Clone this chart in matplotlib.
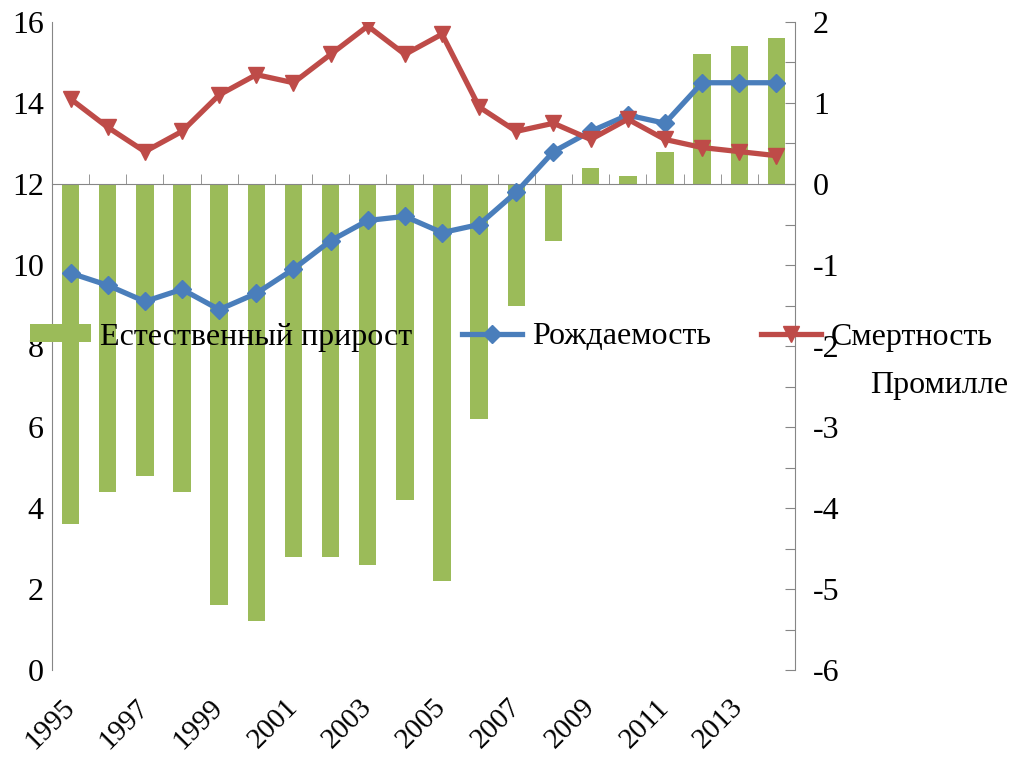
import numpy as np
import matplotlib
matplotlib.use("Agg")
import matplotlib.pyplot as plt

plt.rcParams['font.family'] = ['Liberation Serif', 'DejaVu Serif']

years = list(range(1995, 2015))
natural_increase = [-4.2, -3.8, -3.6, -3.8, -5.2, -5.4, -4.6, -4.6, -4.7, -3.9,
                    -4.9, -2.9, -1.5, -0.7, 0.2, 0.1, 0.4, 1.6, 1.7, 1.8]
birth_rate = [9.8, 9.5, 9.1, 9.4, 8.9, 9.3, 9.9, 10.6, 11.1, 11.2,
              10.8, 11.0, 11.8, 12.8, 13.3, 13.7, 13.5, 14.5, 14.5, 14.5]
death_rate = [14.1, 13.4, 12.8, 13.3, 14.2, 14.7, 14.5, 15.2, 15.9, 15.2,
              15.7, 13.9, 13.3, 13.5, 13.1, 13.6, 13.1, 12.9, 12.8, 12.7]
year_labels = [str(y) for y in years[::2]]

green = '#9BBB59'
blue = '#4A7EBB'
red = '#BE4B48'
gray = '#868686'
fs = 23

fig = plt.figure(figsize=(10.28, 7.58), dpi=100)
ax = fig.add_axes([0.0506, 0.116, 0.7227, 0.855])
x = np.arange(len(years))

# bars on the right-hand axis
bars = ax.bar(x, natural_increase, width=0.47, color=green, label='Естественный прирост')
ax.set_ylim(-6, 2)
ax.set_xlim(-0.5, len(years) - 0.5)

axl = ax.twinx()
ax.yaxis.tick_right()
axl.yaxis.tick_left()

# lines on the left-hand axis
l1, = axl.plot(x, birth_rate, color=blue, lw=3.8, marker='D', ms=9, label='Рождаемость')
l2, = axl.plot(x, death_rate, color=red, lw=3.8, marker='v', ms=11, label='Смертность')
axl.set_ylim(0, 16)
axl.set_yticks(np.arange(0, 17, 2))

# right axis ticks
rt = np.arange(-6, 2.01, 0.5)
ax.set_yticks(rt)
ax.set_yticklabels([f'{int(v)}' if v == int(v) else '' for v in rt])
ax.tick_params(axis='y', direction='in', length=7, color=gray, labelsize=fs, pad=13)
axl.tick_params(axis='y', length=0, labelsize=fs, pad=6)

for s in ['left', 'top']:
    ax.spines[s].set_visible(False)
ax.spines['right'].set_color(gray)
ax.spines['bottom'].set_position(('data', 0))
ax.spines['bottom'].set_color(gray)
for s in ['right', 'top', 'bottom']:
    axl.spines[s].set_visible(False)
axl.spines['left'].set_color(gray)

# x ticks: boundaries on the zero line, year labels at the bottom
ax.set_xticks(x[::2])
ax.set_xticks(np.arange(0.5, len(years) - 1, 1), minor=True)
ax.tick_params(axis='x', which='major', length=0, labelbottom=False)
ax.tick_params(axis='x', which='minor', direction='in', length=7, color=gray)
axl.xaxis.set_visible(True)
axl.set_xticklabels(year_labels, rotation=45, ha='right', va='center',
                    rotation_mode='anchor', fontsize=21)
axl.tick_params(axis='x', which='both', length=0, pad=24)

fig.legend(handles=[bars, l1, l2], loc='center left', bbox_to_anchor=(0.029, 1 - 337 / 758),
           ncol=3, frameon=False, fontsize=fs, handlelength=1.9, handleheight=0.47,
           handletextpad=0.3, columnspacing=1.55, borderpad=0, borderaxespad=0)

fig.text(870 / 1028, 1 - 385 / 758, 'Промилле', fontsize=fs, ha='left', va='center')

fig.savefig('out.png', dpi=100)
